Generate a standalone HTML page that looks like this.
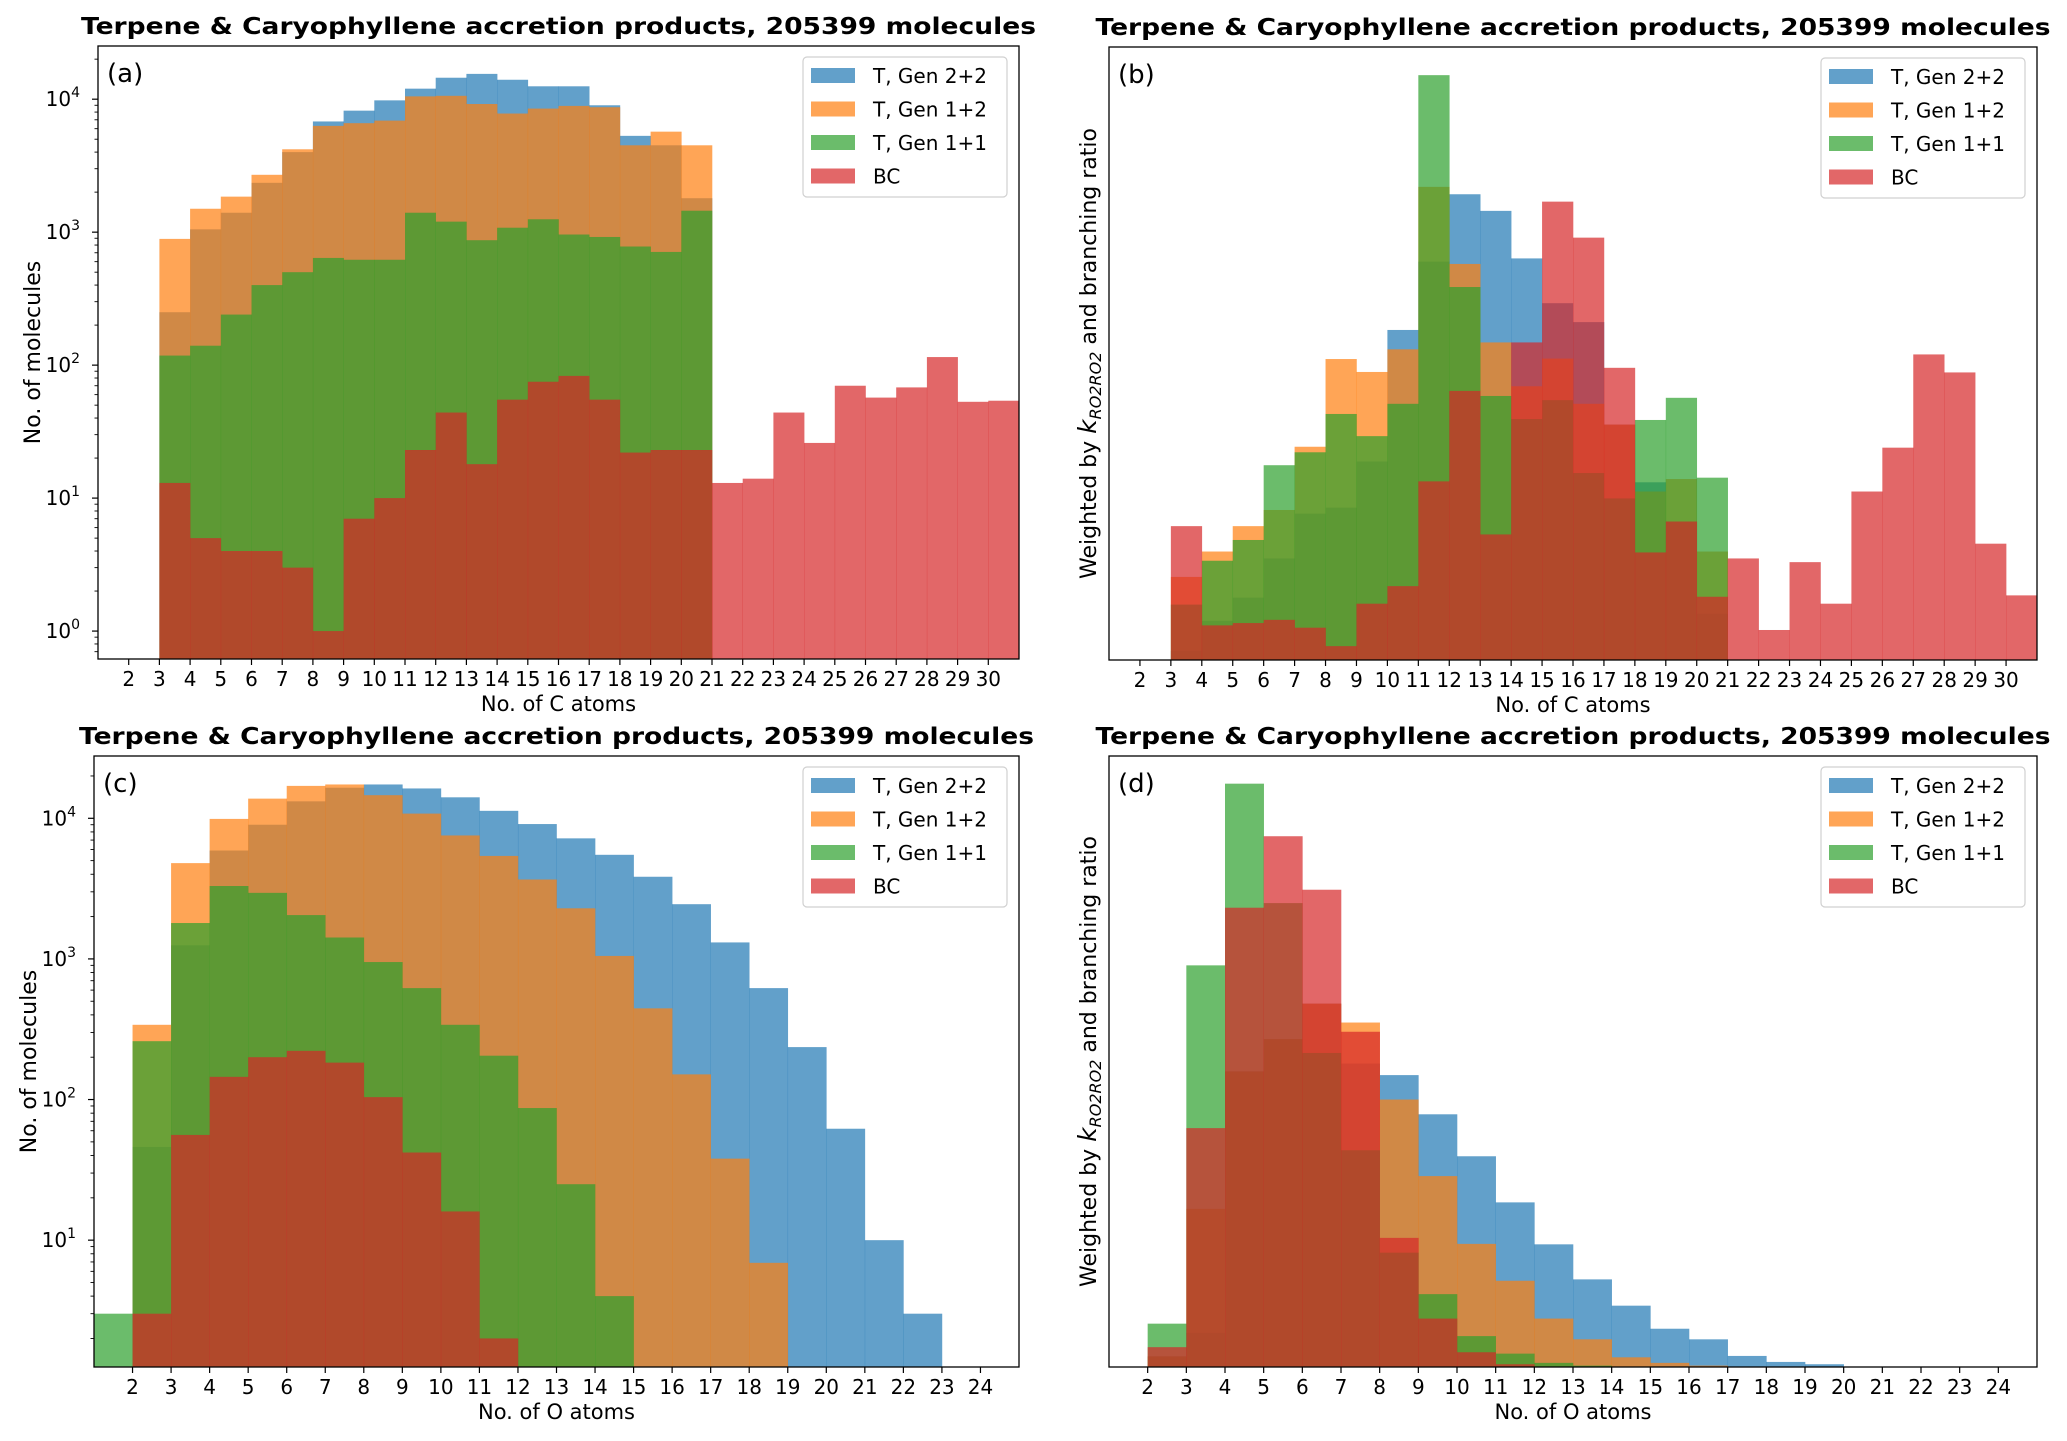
<!DOCTYPE html>
<html><head><meta charset="utf-8"><style>
html,body{margin:0;padding:0;background:#fff;}
svg{display:block;font-family:"DejaVu Sans","Liberation Sans",sans-serif;}
</style></head><body>
<svg id="fig" width="2067" height="1441" viewBox="0 0 2067 1441" xmlns="http://www.w3.org/2000/svg"></svg>
<script>
// ---- Data: panel (a) C atoms, log counts (bins start at 3)
const aBlue=[250,1050,1400,2350,4000,6800,8200,9800,12000,14500,15500,14000,12500,12500,9000,5300,4500,1800];
const aOrange=[890,1500,1850,2700,4200,6300,6600,6900,10500,10600,9200,7800,8500,8900,8700,4500,5700,4500];
const aGreen=[118,140,240,400,500,640,620,620,1400,1200,870,1080,1250,960,920,780,710,1450];
const aRed=[13,5,4,4,3,1,7,10,23,44,18,55,75,83,55,22,23,23,13,14,44,26,70,57,68,115,53,54];
// ---- panel (b) weighted, arbitrary units (bins start at 3)
const bBlue=[20,85,135,220,317,330,430,715,863,1009,973,870,773,732,510,385,300,100];
const bOrange=[180,235,290,325,462,652,624,673,1025,858,688,593,653,555,510,365,392,235];
const bGreen=[120,215,260,422,450,533,485,555,1267,808,572,522,563,405,350,520,568,395];
const bRed=[290,75,80,87,70,30,122,160,387,583,272,688,993,915,633,233,300,137,220,65,212,122,365,460,662,623,252,140];
// ---- panel (c) O atoms, log counts
const cBlue=[46,1250,5900,9000,13200,16500,17400,16300,14100,11300,9100,7200,5500,3840,2450,1310,620,236,62,10,3]; // bins from 2
const cOrange=[340,4800,9900,13800,17000,17400,14600,10800,7550,5400,3670,2290,1050,445,151,38,6.9]; // from 2
const cGreen=[3,260,1800,3300,2950,2050,1420,950,620,340,205,87,25,4]; // from 1
const cRed=[3,56,145,200,222,183,104,42,16,2]; // from 2
// ---- panel (d) weighted O atoms (bins from 2)
const dBlue=[23,74,641,711,788,658,633,548,457,357,266,190,133,83,60,24,11,6];
const dOrange=[23,343,641,711,788,747,580,414,267,187,105,60,21,9,3];
const dGreen=[94,871,1265,1006,681,470,248,158,67,29,9,3];
const dRed=[43,518,996,1151,1035,727,280,105,32,6];
const seriesNames=["T, Gen 2+2","T, Gen 1+2","T, Gen 1+1","BC"];
const colors=["#1f77b4","#ff7f0e","#2ca02c","#d62728"];
const title="Terpene & Caryophyllene accretion products, 205399 molecules";

const NS="http://www.w3.org/2000/svg";
const svg=document.getElementById('fig');
function el(tag,attrs,parent){const e=document.createElementNS(NS,tag);for(const k in attrs)e.setAttribute(k,attrs[k]);(parent||svg).appendChild(e);return e;}

function panel(cfg){
  const g=el('g',{});
  
  
  const {L,R,T,B,xmin,xmax,ymin,ymax,log}=cfg;
  const X=v=>L+(v-xmin)/(xmax-xmin)*(R-L);
  const Y=v=>{ if(log){const lv=Math.log10(v);return B-(lv-ymin)/(ymax-ymin)*(B-T);} return B-(v-ymin)/(ymax-ymin)*(B-T);};
  cfg.series.forEach((s,si)=>{
    const sg=el('g',{},g);
    
    
    s.vals.forEach((v,i)=>{
      const x0=X(s.start+i), x1=X(s.start+i+1);
      let yt=Y(v); if(yt<T)yt=T;
      const r=el('rect',{x:x0,y:yt,width:x1-x0+0.3,height:Math.max(0,B-yt),fill:colors[si],'fill-opacity':0.7},sg);
      
      
    });
  });
  const fr=el('rect',{x:L,y:T,width:R-L,height:B-T,fill:'none',stroke:'#000','stroke-width':1.3},g);
  
  
  for(let t=cfg.tick0;t<=cfg.tick1;t++){
    el('line',{x1:X(t),x2:X(t),y1:B,y2:B+6,stroke:'#000','stroke-width':1.2},g);
    const tx=el('text',{x:X(t),y:B+27,'font-size':20,'text-anchor':'middle',fill:'#000'},g);
    tx.textContent=t;
    
    
  }
  const xl=el('text',{x:(L+R)/2,y:B+52,'font-size':21,'text-anchor':'middle'},g);
  xl.textContent=cfg.xlabel;
  
  
  if(log){
    for(let d=Math.floor(ymin);d<=Math.ceil(ymax);d++){
      for(let m=1;m<10;m++){
        const v=m*Math.pow(10,d); const lv=Math.log10(v);
        if(lv<ymin||lv>ymax)continue;
        const y=Y(v);
        el('line',{x1:L,x2:L-(m===1?6:3.5),y1:y,y2:y,stroke:'#000','stroke-width':m===1?1.2:0.9},g);
        if(m===1 && d>=cfg.firstLabel){
          const tx=el('text',{x:L-18,y:y+7,'font-size':20,'text-anchor':'end'},g);
          
          
          const t1=el('tspan',{},tx);t1.textContent='10';
          const t2=el('tspan',{dy:-9,'font-size':14},tx);t2.textContent=d;
        }
      }
    }
  }
  const yl=el('text',{transform:`translate(${cfg.ylx},${(T+B)/2}) rotate(-90)`,'font-size':22,'text-anchor':'middle'},g);
  
  
  if(cfg.weighted){
    const a=el('tspan',{},yl);a.textContent='Weighted by ';
    const k=el('tspan',{'font-style':'italic','font-size':25},yl);k.textContent='k';
    const s=el('tspan',{'font-style':'italic','font-size':16,dy:5},yl);s.textContent='RO2RO2';
    const c=el('tspan',{dy:-5},yl);c.textContent=' and branching ratio';
  } else yl.textContent='No. of molecules';
  const ti=el('text',{x:(L+R)/2,y:T-12,'font-size':23.5,'font-weight':'bold','text-anchor':'middle',textLength:cfg.titleW,lengthAdjust:'spacingAndGlyphs'},g);
  ti.textContent=title;
  
  
  const pl=el('text',{x:L+9,y:T+36,'font-size':26},g);
  pl.textContent='('+cfg.id+')';
  
  
  const lg=el('g',{},g);
  
  
  const lx=R-216, ly=T+11;
  el('rect',{x:lx,y:ly,width:204,height:140,rx:4,fill:'#fff','fill-opacity':0.85,stroke:'#d0d0d0','stroke-width':1.2},lg);
  seriesNames.forEach((n,i)=>{
    const cy=ly+19+i*33.5;
    const e=el('g',{},lg);
    
    
    el('rect',{x:lx+8,y:cy-8,width:44,height:15,fill:colors[i],'fill-opacity':0.7},e);
    const t=el('text',{x:lx+70,y:cy+7,'font-size':20},e);t.textContent=n;
  });
}

panel({id:'a',L:98,R:1019,T:46,B:659,xmin:1,xmax:31,ymin:-0.21,ymax:4.40,log:true,firstLabel:0,tick0:2,tick1:30,xlabel:'No. of C atoms',ylx:40,titleW:955,
  series:[{vals:aBlue,start:3},{vals:aOrange,start:3},{vals:aGreen,start:3},{vals:aRed,start:3}]});
panel({id:'b',L:1109,R:2037,T:47,B:660,xmin:1,xmax:31,ymin:0,ymax:1328,log:false,tick0:2,tick1:30,xlabel:'No. of C atoms',ylx:1096,weighted:true,titleW:955,
  series:[{vals:bBlue,start:3},{vals:bOrange,start:3},{vals:bGreen,start:3},{vals:bRed,start:3}]});
panel({id:'c',L:94,R:1019,T:756,B:1367,xmin:1,xmax:25,ymin:0.098,ymax:4.443,log:true,firstLabel:1,tick0:2,tick1:24,xlabel:'No. of O atoms',ylx:36,titleW:955,
  series:[{vals:cBlue,start:2},{vals:cOrange,start:2},{vals:cGreen,start:1},{vals:cRed,start:2}]});
panel({id:'d',L:1109,R:2037,T:756,B:1367,xmin:1,xmax:25,ymin:0,ymax:1325,log:false,tick0:2,tick1:24,xlabel:'No. of O atoms',ylx:1096,weighted:true,titleW:955,
  series:[{vals:dBlue,start:2},{vals:dOrange,start:2},{vals:dGreen,start:2},{vals:dRed,start:2}]});
</script>
</body></html>
